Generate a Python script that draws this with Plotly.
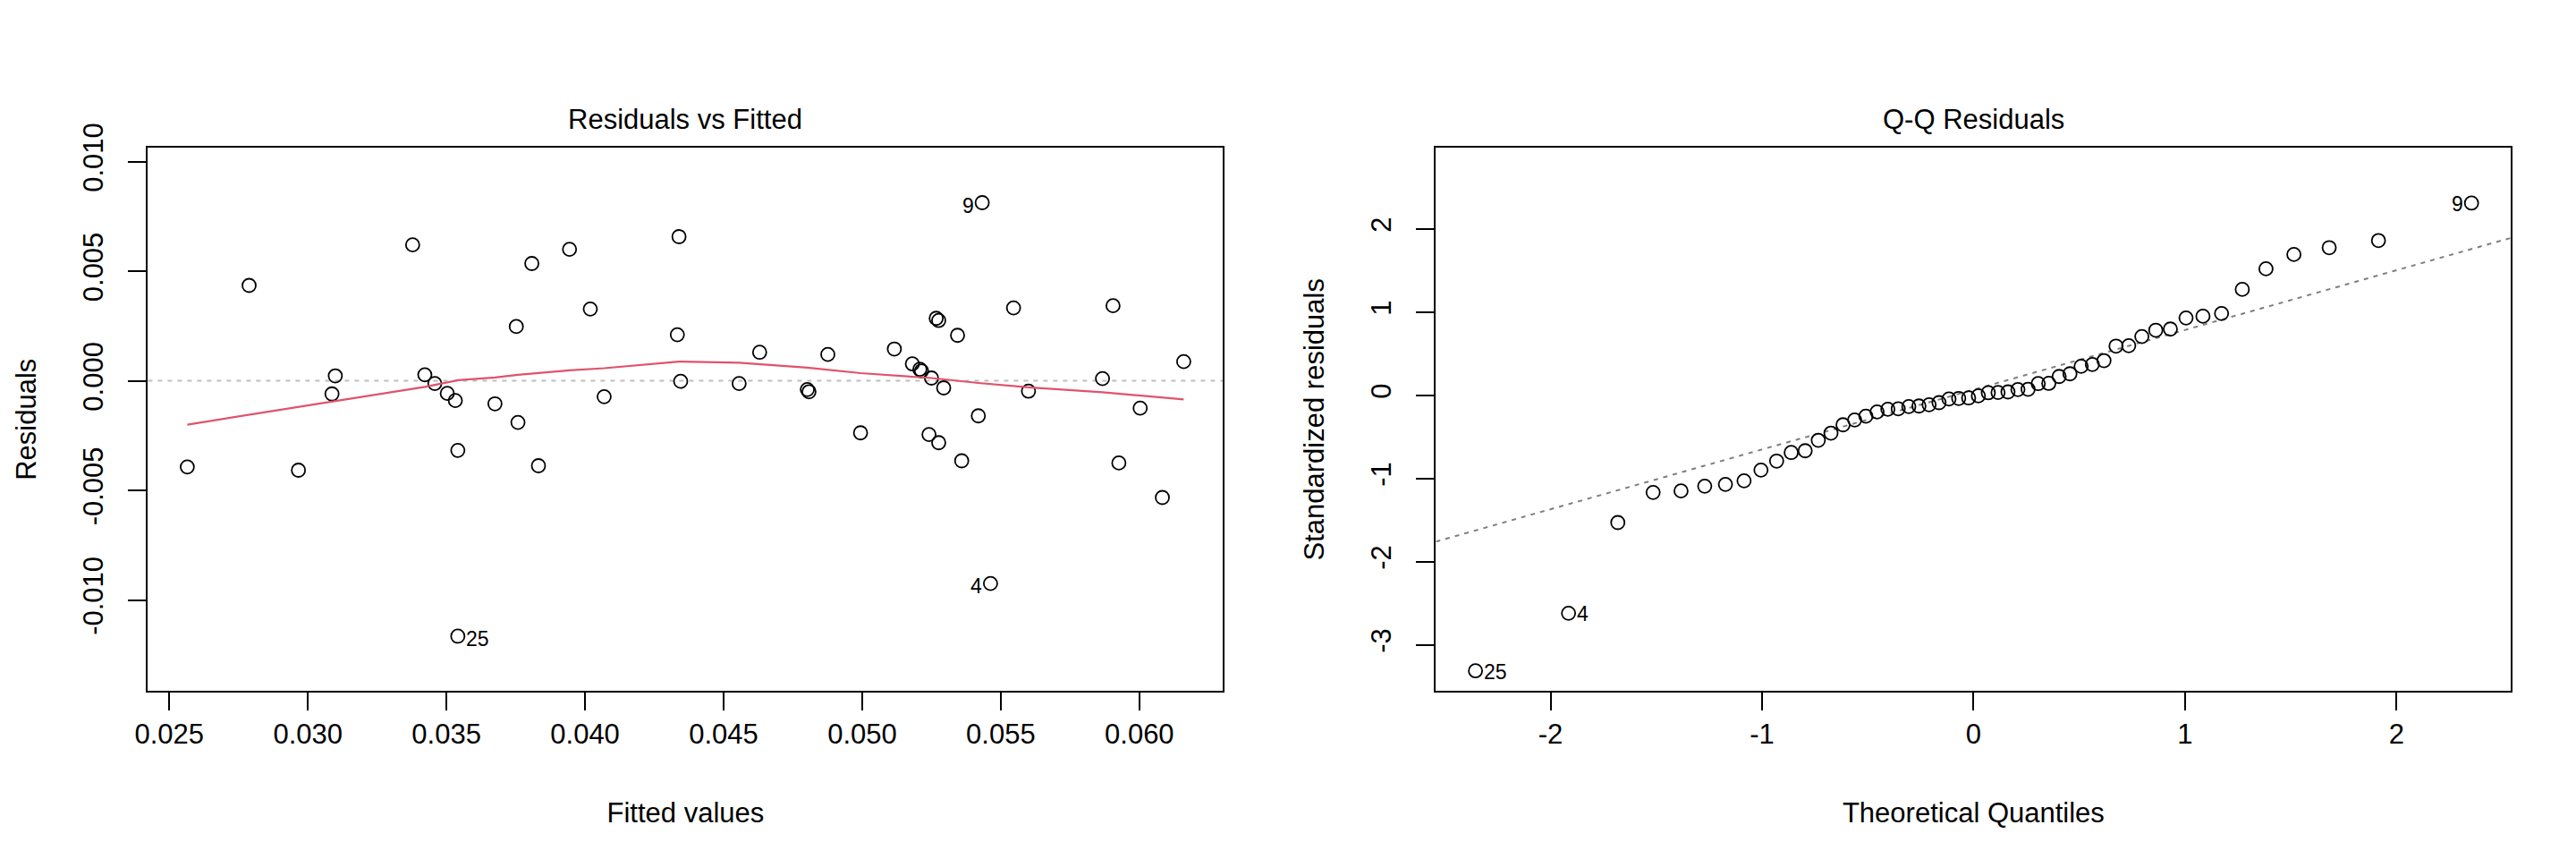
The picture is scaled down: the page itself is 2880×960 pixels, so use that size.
import plotly.graph_objects as go

# Residuals vs Fitted
fitted = [0.02565, 0.02788, 0.02966, 0.03087, 0.03099, 0.03378, 0.03422, 0.03458,
          0.03503, 0.03532, 0.03541, 0.03541, 0.03675, 0.03752, 0.03758, 0.03808,
          0.03832, 0.03944, 0.04019, 0.04069, 0.04333, 0.04339, 0.04345, 0.04556,
          0.04630, 0.04802, 0.04808, 0.04876, 0.04994, 0.05116, 0.05181, 0.05208,
          0.05214, 0.05241, 0.05250, 0.05267, 0.05276, 0.05276, 0.05294, 0.05344,
          0.05359, 0.05419, 0.05433, 0.05463, 0.05546, 0.05600, 0.05867, 0.05905,
          0.05926, 0.06003, 0.06083, 0.06160]
residuals = [-0.00393, 0.00435, -0.00408, -0.00060, 0.000225, 0.00620, 0.000275, -0.000125,
             -0.000575, -0.00090, -0.003175, -0.01165, -0.00105, 0.002475, -0.00190, 0.00535,
             -0.003875, 0.00600, 0.003275, -0.000725, 0.00210, 0.006575, -0.000025, -0.000125,
             0.00130, -0.00040, -0.00050, 0.00120, -0.002375, 0.00145, 0.000775, 0.000525,
             0.00045, -0.00245, 0.000125, 0.00285, 0.00275, -0.002825, -0.000325, 0.002075,
             -0.00365, -0.00160, 0.008125, -0.00925, 0.003325, -0.000475, 0.00010, 0.003425,
             -0.00375, -0.00125, -0.005325, 0.000875]
rvf_ids = {12 - 1: "25", 43 - 1: "9", 44 - 1: "4"}

smooth_x = [0.02565, 0.03099, 0.03422, 0.03541, 0.03675, 0.03758, 0.03944, 0.04069,
            0.04339, 0.04556, 0.04802, 0.04994, 0.05250, 0.05419, 0.05600, 0.05867, 0.06160]
smooth_y = [-0.00200, -0.000925, -0.000275, 0.000025, 0.00015, 0.000275, 0.000475, 0.000575,
            0.000875, 0.000825, 0.00060, 0.00035, 0.000125, -0.00010, -0.00030, -0.000525, -0.00085]

# Q-Q Residuals
theoretical = [-2.355, -1.915, -1.682, -1.515, -1.383, -1.271, -1.173, -1.085, -1.005, -0.931,
               -0.862, -0.796, -0.734, -0.674, -0.617, -0.562, -0.509, -0.456, -0.405, -0.356,
               -0.306, -0.258, -0.210, -0.163, -0.116, -0.070, -0.023,
               0.023, 0.070, 0.116, 0.163, 0.210, 0.258, 0.306, 0.356, 0.405, 0.456, 0.509,
               0.562, 0.617, 0.674, 0.734, 0.796, 0.862, 0.931, 1.005, 1.085, 1.173, 1.271,
               1.383, 1.515, 1.682, 1.915, 2.355]
std_resid = [-3.312, -2.620, -1.530, -1.168, -1.150, -1.093, -1.071, -1.028, -0.899, -0.791,
             -0.688, -0.667, -0.541, -0.455, -0.355, -0.297, -0.251, -0.200, -0.168, -0.163,
             -0.136, -0.129, -0.114, -0.089, -0.045, -0.038, -0.032,
             -0.007, 0.030, 0.033, 0.040, 0.069, 0.072, 0.140, 0.143, 0.226, 0.258, 0.348,
             0.370, 0.416, 0.591, 0.596, 0.706, 0.782, 0.796, 0.929, 0.950, 0.983, 1.273,
             1.520, 1.692, 1.774, 1.860, 2.310]
qq_ids = {0: "25", 1: "4", 53: "9"}
qq_line_x = [-2.542, 2.542]
qq_line_y = [-1.759, 1.892]

rvf_xticks = [0.025, 0.030, 0.035, 0.040, 0.045, 0.050, 0.055, 0.060]
rvf_xlabels = ["0.025", "0.030", "0.035", "0.040", "0.045", "0.050", "0.055", "0.060"]
rvf_yticks = [-0.010, -0.005, 0.0, 0.005, 0.010]
rvf_ylabels = ["-0.010", "-0.005", "0.000", "0.005", "0.010"]
qq_xticks = [-2, -1, 0, 1, 2]
qq_xlabels = ["-2", "-1", "0", "1", "2"]
qq_yticks = [-3, -2, -1, 0, 1, 2]
qq_ylabels = ["-3", "-2", "-1", "0", "1", "2"]

FONT = "Liberation Sans, Arial, Helvetica, sans-serif"
FS = 31
marker = dict(symbol="circle-open", size=15, color="black", line=dict(width=1.8, color="black"))

fig = go.Figure()
fig.add_trace(go.Scatter(x=fitted, y=residuals, mode="markers", marker=marker,
                         xaxis="x", yaxis="y", showlegend=False))
fig.add_trace(go.Scatter(x=smooth_x, y=smooth_y, mode="lines", line=dict(color="#DF536B", width=2.2),
                         xaxis="x", yaxis="y", showlegend=False))
fig.add_trace(go.Scatter(x=qq_line_x, y=qq_line_y, mode="lines",
                         line=dict(color="#7F7F7F", width=2, dash="5px,6px"),
                         xaxis="x2", yaxis="y2", showlegend=False))
fig.add_trace(go.Scatter(x=theoretical, y=std_resid, mode="markers", marker=marker,
                         xaxis="x2", yaxis="y2", showlegend=False))

# dotted zero line on residual plot
fig.add_shape(type="line", xref="x domain", yref="y", x0=0, x1=1, y0=0, y1=0,
              line=dict(color="#BEBEBE", width=2, dash="5px,6px"), layer="below")

mid_rvf = (min(fitted) + max(fitted)) / 2
for i, lab in rvf_ids.items():
    left = fitted[i] > mid_rvf
    fig.add_annotation(x=fitted[i], y=residuals[i], xref="x", yref="y", text=lab, showarrow=False,
                       xanchor="right" if left else "left", xshift=-7 if left else 7, yshift=-3,
                       font=dict(family=FONT, size=23, color="black"))
for i, lab in qq_ids.items():
    left = theoretical[i] > 0
    fig.add_annotation(x=theoretical[i], y=std_resid[i], xref="x2", yref="y2", text=lab, showarrow=False,
                       xanchor="right" if left else "left", xshift=-7 if left else 7, yshift=-1,
                       font=dict(family=FONT, size=23, color="black"))

dom_x1 = [157.4 / 2880, 1359.4 / 2880]
dom_x2 = [1597.4 / 2880, 2799.4 / 2880]
dom_y = [1 - 764.2 / 960, 1 - 157.4 / 960]

for title, dom in [("Residuals vs Fitted", dom_x1), ("Q-Q Residuals", dom_x2)]:
    fig.add_annotation(x=sum(dom) / 2, y=1 - 126 / 960, xref="paper", yref="paper", text=title,
                       showarrow=False, xanchor="center", yanchor="middle",
                       font=dict(family=FONT, size=FS, color="black"))

axis_style = dict(showline=True, mirror=True, linecolor="black", linewidth=2, ticks="outside",
                  ticklen=20, tickwidth=2, tickcolor="black", showgrid=False, zeroline=False,
                  tickfont=dict(family=FONT, size=FS, color="black"), automargin=False,
                  tickmode="array")
title_font = dict(family=FONT, size=FS, color="black")

fig.update_layout(
    width=2880, height=960,
    margin=dict(l=0, r=0, t=0, b=0),
    paper_bgcolor="white", plot_bgcolor="white",
    xaxis=dict(domain=dom_x1, range=[0.02423, 0.06302], tickvals=rvf_xticks, ticktext=rvf_xlabels,
               ticklabelstandoff=0,
               title=dict(text="Fitted values", font=title_font, standoff=60), anchor="y", **axis_style),
    yaxis=dict(domain=dom_y, range=[-0.01415, 0.01062], tickvals=rvf_yticks, ticktext=rvf_ylabels,
               tickangle=-90, ticklabelstandoff=16,
               title=dict(text="Residuals", font=title_font, standoff=37),
               anchor="x", **axis_style),
    xaxis2=dict(domain=dom_x2, range=[-2.542, 2.542], tickvals=qq_xticks, ticktext=qq_xlabels,
                ticklabelstandoff=0,
                title=dict(text="Theoretical Quantiles", font=title_font, standoff=60), anchor="y2",
                **axis_style),
    yaxis2=dict(domain=dom_y, range=[-3.554, 2.972], tickvals=qq_yticks, ticktext=qq_ylabels,
                tickangle=-90, ticklabelstandoff=16,
                title=dict(text="Standardized residuals", font=title_font, standoff=37),
                anchor="x2", **axis_style),
)

fig.write_html("out.html")
